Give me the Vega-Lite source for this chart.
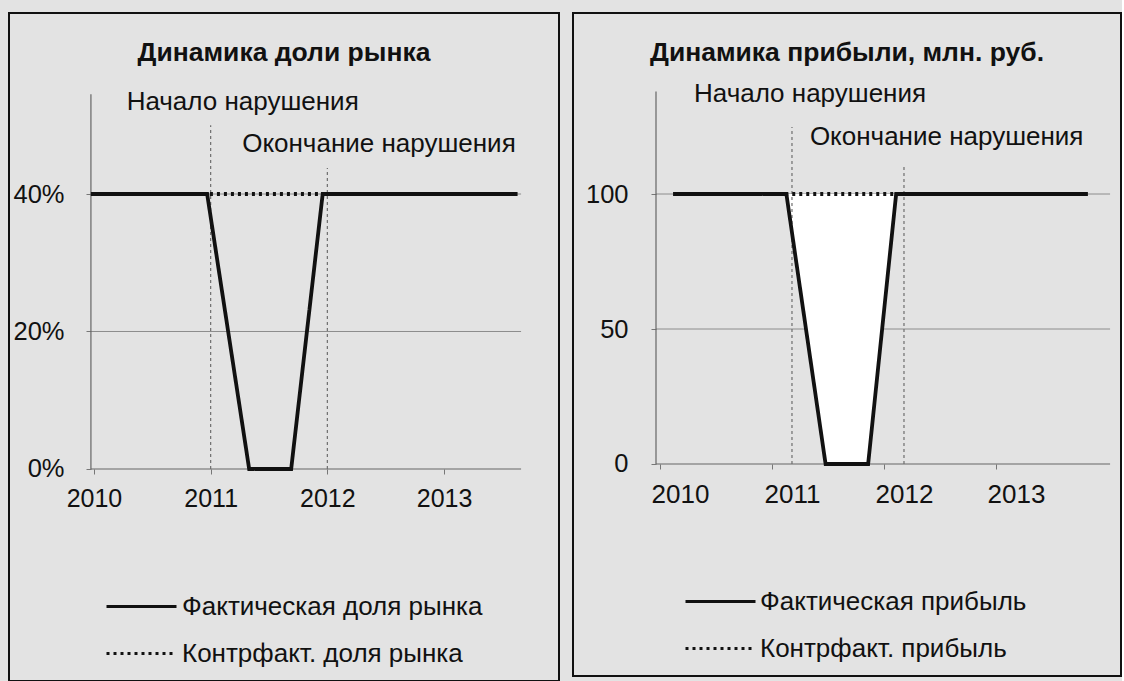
{
  "$schema": "https://vega.github.io/schema/vega-lite/v6.json",
  "background": "#e3e3e3",
  "padding": {"left": 8, "top": 12, "right": 0, "bottom": 0},
  "spacing": 12,
  "config": {
    "font": "Liberation Sans",
    "view": {"stroke": "#111111", "strokeWidth": 2},
    "text": {"font": "Liberation Sans"}
  },
  "resolve": {
    "scale": {"x": "independent", "y": "independent", "strokeDash": "independent"},
    "legend": {"strokeDash": "independent"}
  },
  "hconcat": [
    {
      "width": 550,
      "height": 668,
      "title": {"text": "Динамика доли рынка", "offset": -53, "fontSize": 26.5, "fontWeight": "bold", "font": "Liberation Sans", "anchor": "middle", "color": "#111111"},
      "encoding": {
        "x": {"field": "year", "type": "quantitative",
          "scale": {"domain": [2009.272, 2013.985], "nice": false, "zero": false},
          "axis": {"values": [2010, 2011, 2012, 2013], "format": "d", "offset": -212, "domain": false, "grid": false, "tickSize": 5, "tickColor": "#777777", "labelFontSize": 25, "labelFont": "Liberation Sans", "labelColor": "#111111", "labelPadding": 12, "title": null, "labelFlush": false, "labelOverlap": false, "labelBound": false}},
        "y": {"field": "value", "type": "quantitative",
          "scale": {"domain": [-0.3084, 0.6633], "nice": false, "zero": false},
          "axis": {"values": [0, 0.2, 0.4], "format": ".0%", "offset": -82, "domain": false, "grid": false, "tickSize": 5, "tickColor": "#777777", "labelFontSize": 25.5, "labelFont": "Liberation Sans", "labelColor": "#111111", "labelPadding": 22, "title": null}}
      },
      "layer": [
        {
          "data": {"values": [
            {"year": 2009.974, "year2": 2013.66, "value": 0.2},
            {"year": 2009.974, "year2": 2013.66, "value": 0.4}
          ]},
          "mark": {"type": "rule", "color": "#8c8c8c", "strokeWidth": 1},
          "encoding": {"x2": {"field": "year2"}}
        },
        {
          "data": {"values": [
            {"year": 2009.974, "year2": 2013.66, "value": 0, "value2": 0},
            {"year": 2009.974, "year2": 2009.974, "value": 0, "value2": 0.545}
          ]},
          "mark": {"type": "rule", "color": "#666666", "strokeWidth": 1.2},
          "encoding": {"x2": {"field": "year2"}, "y2": {"field": "value2"}}
        },
        {
          "data": {"values": [
            {"year": 2011, "year2": 2011, "value": 0, "value2": 0.5},
            {"year": 2012, "year2": 2012, "value": 0, "value2": 0.438}
          ]},
          "mark": {"type": "rule", "color": "#6e6e6e", "strokeWidth": 1.2, "strokeDash": [3, 3]},
          "encoding": {"x2": {"field": "year2"}, "y2": {"field": "value2"}}
        },
        {
          "data": {"values": [
            {"series": "Контрфакт. доля рынка", "year": 2009.974, "value": 0.4},
            {"series": "Контрфакт. доля рынка", "year": 2013.63, "value": 0.4},
            {"series": "Фактическая доля рынка", "year": 2009.974, "value": 0.4},
            {"series": "Фактическая доля рынка", "year": 2010.97, "value": 0.4},
            {"series": "Фактическая доля рынка", "year": 2011.33, "value": 0},
            {"series": "Фактическая доля рынка", "year": 2011.69, "value": 0},
            {"series": "Фактическая доля рынка", "year": 2011.96, "value": 0.4},
            {"series": "Фактическая доля рынка", "year": 2013.63, "value": 0.4}
          ]},
          "mark": {"type": "line", "color": "#111111", "strokeWidth": 3.8, "strokeCap": "butt"},
          "encoding": {
            "strokeDash": {"field": "series", "type": "nominal",
              "scale": {"domain": ["Фактическая доля рынка", "Контрфакт. доля рынка"], "range": [[1, 0], [3, 4]]},
              "legend": {"orient": "none", "legendX": 96, "legendY": 581, "title": null, "symbolType": "stroke", "symbolSize": 4900, "symbolStrokeWidth": 3, "symbolStrokeColor": "#111111", "clipHeight": 25, "rowPadding": 20, "padding": 0, "labelFontSize": 26, "labelFont": "Liberation Sans", "labelColor": "#111111", "labelOffset": 4, "labelLimit": 500}}
          }
        },
        {
          "data": {"values": [
            {"label": "Начало нарушения", "year": 2010.28, "value": 0.534},
            {"label": "Окончание нарушения", "year": 2011.27, "value": 0.473}
          ]},
          "mark": {"type": "text", "align": "left", "baseline": "middle", "fontSize": 26, "color": "#111111"},
          "encoding": {"text": {"field": "label"}}
        }
      ]
    },
    {
      "width": 548,
      "height": 663,
      "title": {"text": "Динамика прибыли, млн. руб.", "offset": -53, "fontSize": 26.5, "fontWeight": "bold", "font": "Liberation Sans", "anchor": "middle", "color": "#111111"},
      "encoding": {
        "x": {"field": "year", "type": "quantitative",
          "scale": {"domain": [2009.045, 2013.9375], "nice": false, "zero": false},
          "axis": {"values": [2010, 2011, 2012, 2013, 2014], "format": "d", "labelExpr": "datum.value >= 2014 ? '' : datum.label", "tickOffset": -20, "labelOffset": 20, "offset": -212, "domain": false, "grid": false, "tickSize": 5, "tickColor": "#777777", "labelFontSize": 26, "labelFont": "Liberation Sans", "labelColor": "#111111", "labelPadding": 12, "title": null, "labelFlush": false, "labelOverlap": false, "labelBound": false}},
        "y": {"field": "value", "type": "quantitative",
          "scale": {"domain": [-78.52, 167.04], "nice": false, "zero": false},
          "axis": {"values": [0, 50, 100], "format": "d", "offset": -83, "domain": false, "grid": false, "tickSize": 5, "tickColor": "#777777", "labelFontSize": 25.5, "labelFont": "Liberation Sans", "labelColor": "#111111", "labelPadding": 23, "title": null}}
      },
      "layer": [
        {
          "data": {"values": [
            {"year": 2009.786, "year2": 2013.84, "value": 50},
            {"year": 2009.786, "year2": 2013.84, "value": 100}
          ]},
          "mark": {"type": "rule", "color": "#8c8c8c", "strokeWidth": 1},
          "encoding": {"x2": {"field": "year2"}}
        },
        {
          "data": {"values": [
            {"year": 2009.786, "year2": 2013.84, "value": 0, "value2": 0},
            {"year": 2009.786, "year2": 2009.786, "value": 0, "value2": 138}
          ]},
          "mark": {"type": "rule", "color": "#666666", "strokeWidth": 1.2},
          "encoding": {"x2": {"field": "year2"}, "y2": {"field": "value2"}}
        },
        {
          "data": {"values": [
            {"year": 2010.95, "value": 100, "value2": 100},
            {"year": 2011.3, "value": 0, "value2": 100},
            {"year": 2011.68, "value": 0, "value2": 100},
            {"year": 2011.93, "value": 100, "value2": 100}
          ]},
          "mark": {"type": "area", "color": "#ffffff", "opacity": 1},
          "encoding": {"y2": {"field": "value2"}}
        },
        {
          "data": {"values": [
            {"year": 2011, "year2": 2011, "value": 0, "value2": 124.8},
            {"year": 2012, "year2": 2012, "value": 0, "value2": 110.4}
          ]},
          "mark": {"type": "rule", "color": "#6e6e6e", "strokeWidth": 1.2, "strokeDash": [3, 3]},
          "encoding": {"x2": {"field": "year2"}, "y2": {"field": "value2"}}
        },
        {
          "data": {"values": [
            {"series": "Контрфакт. прибыль", "year": 2009.94, "value": 100},
            {"series": "Контрфакт. прибыль", "year": 2013.64, "value": 100},
            {"series": "Фактическая прибыль", "year": 2009.94, "value": 100},
            {"series": "Фактическая прибыль", "year": 2010.95, "value": 100},
            {"series": "Фактическая прибыль", "year": 2011.3, "value": 0},
            {"series": "Фактическая прибыль", "year": 2011.68, "value": 0},
            {"series": "Фактическая прибыль", "year": 2011.93, "value": 100},
            {"series": "Фактическая прибыль", "year": 2013.64, "value": 100}
          ]},
          "mark": {"type": "line", "color": "#111111", "strokeWidth": 3.8, "strokeCap": "butt"},
          "encoding": {
            "strokeDash": {"field": "series", "type": "nominal",
              "scale": {"domain": ["Фактическая прибыль", "Контрфакт. прибыль"], "range": [[1, 0], [3, 4]]},
              "legend": {"orient": "none", "legendX": 111, "legendY": 576, "title": null, "symbolType": "stroke", "symbolSize": 4900, "symbolStrokeWidth": 3, "symbolStrokeColor": "#111111", "clipHeight": 25, "rowPadding": 20, "padding": 0, "labelFontSize": 26, "labelFont": "Liberation Sans", "labelColor": "#111111", "labelOffset": 3, "labelLimit": 500}}
          }
        },
        {
          "data": {"values": [
            {"label": "Начало нарушения", "year": 2010.125, "value": 137},
            {"label": "Окончание нарушения", "year": 2011.16, "value": 121}
          ]},
          "mark": {"type": "text", "align": "left", "baseline": "middle", "fontSize": 26, "color": "#111111"},
          "encoding": {"text": {"field": "label"}}
        }
      ]
    }
  ]
}
